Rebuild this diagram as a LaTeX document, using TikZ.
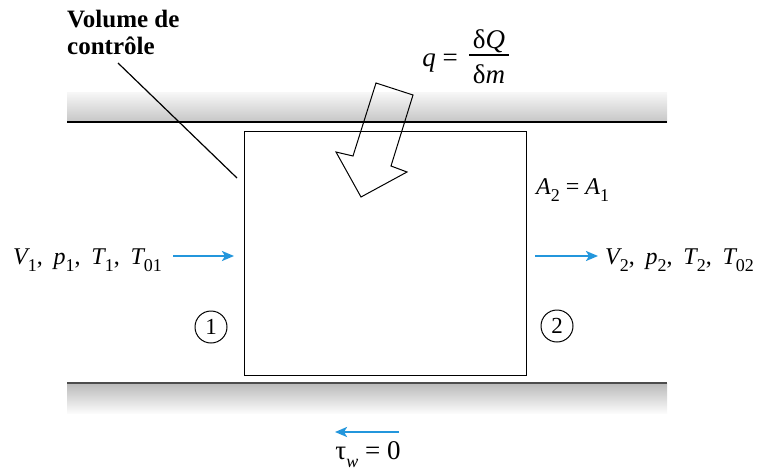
\documentclass[tikz,border=0pt]{standalone}
\usepackage{fontspec}
\setmainfont{Liberation Serif}
\usetikzlibrary{arrows.meta}
\definecolor{flowblue}{RGB}{35,150,220}
\newcommand\sbx[1]{\raisebox{-0.32em}{\fontsize{18}{18}\selectfont #1}}
\newcommand\csep{,\hspace{0.45em}}
\begin{document}
\begin{tikzpicture}[x=1pt,y=-1pt,
  lbl/.style={inner sep=0pt, font=\fontsize{24}{28}\selectfont},
  biglbl/.style={inner sep=0pt, font=\fontsize{27}{30}\selectfont},
  flow/.style={draw=flowblue, line width=2.4pt, -{Stealth[length=12pt,width=10pt,inset=3pt]}},
  station/.style={draw, circle, line width=1pt, minimum size=32pt, inner sep=0pt, font=\fontsize{23}{26}\selectfont},
  pipeline/.style={line width=1.8pt}]
\useasboundingbox (0,0) rectangle (760,474);
% pipe walls
\shade[top color=gray!6, bottom color=gray!45] (67,92) rectangle (667,122);
\draw[pipeline] (67,122) -- (667,122);
\shade[top color=gray!55, bottom color=gray!3] (67,383) rectangle (667,413);
\draw[pipeline, gray!60!black] (67,383) -- (667,383);
% control volume
\node[draw, line width=1.3pt, minimum width=282pt, minimum height=244pt, anchor=north west, inner sep=0pt] (cv) at (244,131) {};
% label and leader
\node[anchor=north west, align=left, inner sep=0pt, font=\bfseries\fontsize{25}{27}\selectfont] (cvlabel) at (67,10) {Volume de\\contrôle};
\coordinate (leadA) at (118,63);
\coordinate (leadB) at (237,178);
\draw[line width=1.2pt] (leadA) -- (leadB);
% heat arrow
\draw[line width=1pt, line join=miter] (376,83) -- (413,95) -- (391,166) -- (407,172) -- (361,197) -- (336,152) -- (353,156) -- cycle;
\node[biglbl, anchor=base] (qeq) at (440,66) {{\itshape q} =};
\node[biglbl, anchor=base] (num) at (489,48) {δ{\itshape Q}};
\node[biglbl, anchor=base] (den) at (489,83) {δ{\itshape m}};
\draw[line width=1.1pt] (469,55) -- (509,55);
% area
\node[lbl, anchor=base west] (area) at (536,194) {{\itshape A}\sbx{2} = {\itshape A}\sbx{1}};
% inflow
\node[lbl, anchor=base west] (st1) at (13,264) {{\itshape V}\sbx{1}\csep{\itshape p}\sbx{1}\csep{\itshape T}\sbx{1}\csep{\itshape T}\sbx{01}};
\coordinate (in1) at (173,256);
\coordinate (in2) at (234,256);
\draw[flow] (in1) -- (in2);
% outflow
\coordinate (out1) at (535,256);
\coordinate (out2) at (598,256);
\draw[flow] (out1) -- (out2);
\node[lbl, anchor=base west] (st2) at (605,264) {{\itshape V}\sbx{2}\csep{\itshape p}\sbx{2}\csep{\itshape T}\sbx{2}\csep{\itshape T}\sbx{02}};
% stations
\node[station] (s1) at (211,327) {1};
\node[station] (s2) at (557,326) {2};
% wall shear
\coordinate (sh1) at (399,432);
\coordinate (sh2) at (335,432);
\draw[flow] (sh1) -- (sh2);
\node[biglbl, anchor=base] (tau) at (368,459) {τ\sbx{\itshape w} = 0};
\end{tikzpicture}
\end{document}
